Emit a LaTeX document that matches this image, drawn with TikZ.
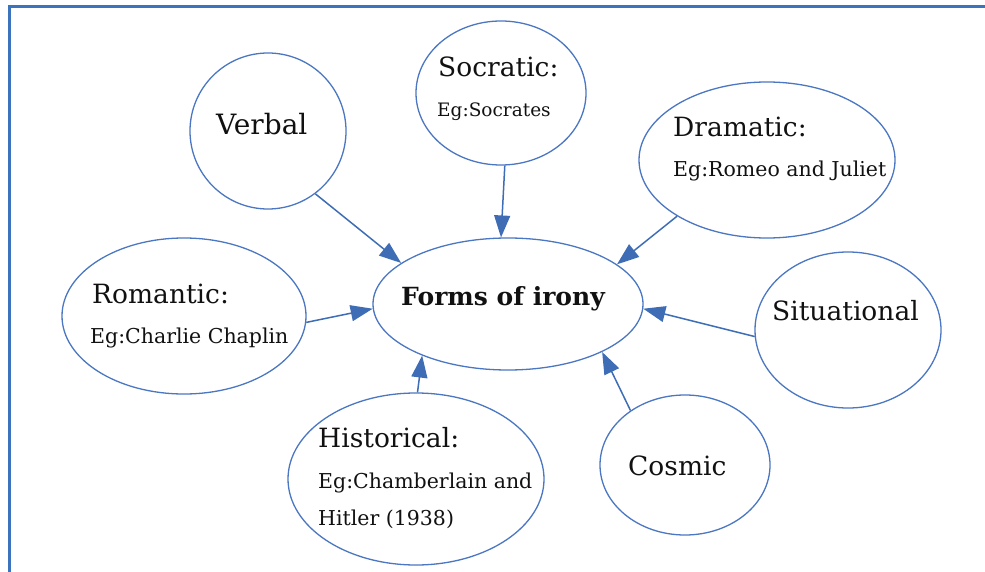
\documentclass[tikz,border=0pt]{standalone}
\usepackage{fontspec}
\setmainfont{DejaVu Serif}
\usetikzlibrary{shapes.geometric,arrows.meta}
\definecolor{frameblue}{HTML}{3B74BD}
\definecolor{lineblue}{HTML}{4A76C2}
\definecolor{arrowblue}{HTML}{3E6DB5}
\definecolor{inktext}{HTML}{111111}
\begin{document}
\begin{tikzpicture}[x=1pt,y=-1pt,
  bubble/.style={draw=lineblue, line width=1.3pt, ellipse, inner sep=0pt},
  title/.style={anchor=base west, inner sep=0pt, text=inktext, font=\fontsize{26.5}{30}\selectfont},
  example/.style={anchor=base west, inner sep=0pt, text=inktext, font=\fontsize{20.5}{24}\selectfont},
  hub/.style={anchor=base west, inner sep=0pt, text=inktext, font=\bfseries\fontsize{25}{29}\selectfont},
  link/.style={draw=arrowblue, line width=1.5pt, -{Triangle[length=22pt,width=16pt]}}]
\useasboundingbox (0,0) rectangle (985,572);
% page frame (top and left edges)
\draw[frameblue, line width=3pt] (9,572) -- (9,6.5) -- (985,6.5);

% bubbles
\node[bubble, minimum width=270pt, minimum height=132pt] (center) at (508,304) {};
\node[bubble, minimum width=156pt, minimum height=156pt] (verbal) at (268,131) {};
\node[bubble, minimum width=170pt, minimum height=144pt] (socratic) at (501,93) {};
\node[bubble, minimum width=256pt, minimum height=156pt] (dramatic) at (767,160) {};
\node[bubble, minimum width=186pt, minimum height=156pt] (situational) at (848,330) {};
\node[bubble, minimum width=170pt, minimum height=140pt] (cosmic) at (685,465) {};
\node[bubble, minimum width=256pt, minimum height=172pt] (historical) at (416,479) {};
\node[bubble, minimum width=244pt, minimum height=156pt] (romantic) at (184,316) {};

% labels
\node[hub] (hubtext) at (401,305) {Forms of irony};
\node[title, font=\fontsize{28}{32}\selectfont] (verbaltext) at (216,135) {Verbal};
\node[title] (socratictext) at (438,77) {Socratic:};
\node[example, font=\fontsize{18.5}{24}\selectfont] (socraticeg) at (437,117) {Eg:Socrates};
\node[title] (dramatictext) at (673,137) {Dramatic:};
\node[example] (dramaticeg) at (673,177) {Eg:Romeo and Juliet};
\node[title] (romantictext) at (92,303) {Romantic:};
\node[example] (romanticeg) at (90,343) {Eg:Charlie Chaplin};
\node[title] (situationaltext) at (772,320) {Situational};
\node[title] (cosmictext) at (628,475) {Cosmic};
\node[title] (historicaltext) at (318,447) {Historical:};
\node[example] (historicaleg) at (318,488) {Eg:Chamberlain and};
\node[example] (historicaleg2) at (318,525) {Hitler (1938)};

% connectors
\draw[link] (verbal.-53) -- (center.159);
\draw[link] (socratic.-87) -- (center.96);
\draw[link] (dramatic.-148) -- (center.20);
\draw[link] (situational.-176) -- (center.-2);
\draw[link] (cosmic.135) -- (center.-27);
\draw[link] (historical.89) -- (center.-149);
\draw[link] (romantic.-3) -- (center.-178);
\end{tikzpicture}
\end{document}
